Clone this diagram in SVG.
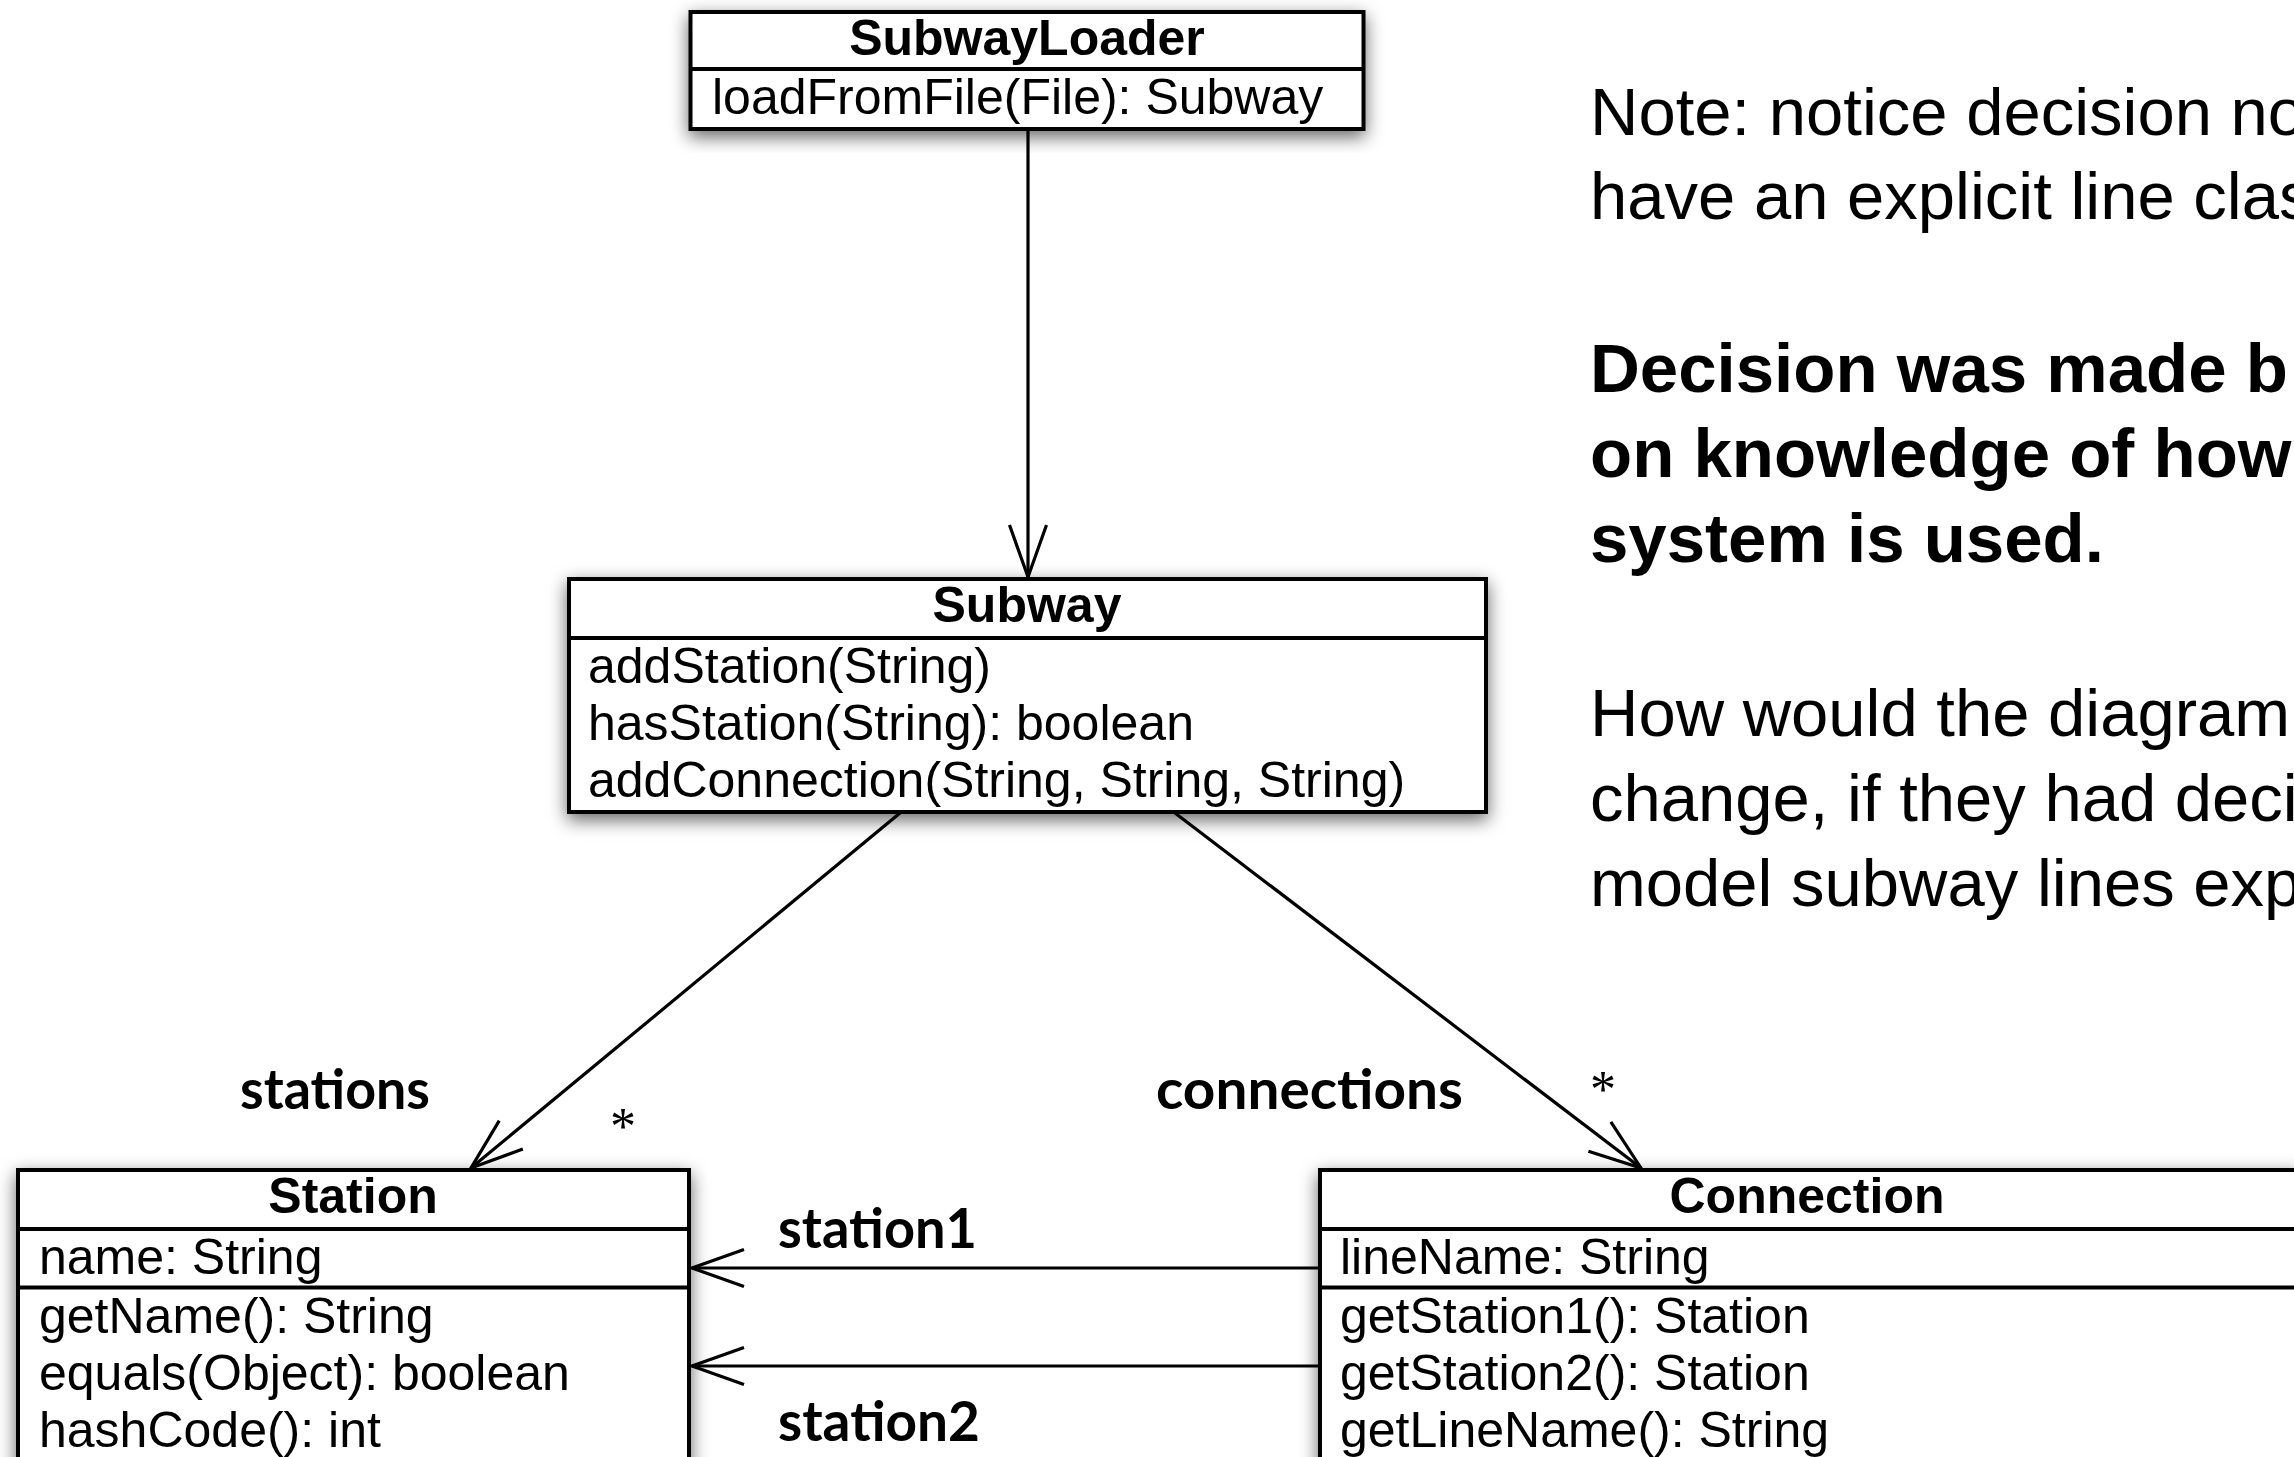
<svg xmlns="http://www.w3.org/2000/svg" width="2294" height="1457" viewBox="0 0 2294 1457">
<style>
  .box { fill: #fff; stroke: #000; stroke-width: 4; }
  .div { stroke: #000; stroke-width: 4; }
  .title { font-family: "Liberation Sans", Arial, sans-serif; font-weight: bold; font-size: 50px; text-anchor: middle; fill: #000; }
  .member { font-family: "Liberation Sans", Arial, sans-serif; font-size: 50px; fill: #000; }
  .conn { stroke: #000; stroke-width: 3.2; fill: none; }
  .role { font-family: Lato, "Open Sans", sans-serif; font-weight: bold; font-size: 56px; fill: #000; }
  .mult { font-family: "Liberation Serif", "Times New Roman", serif; font-size: 52px; text-anchor: middle; fill: #000; }
  .note { font-family: "Liberation Sans", Arial, sans-serif; font-size: 67px; fill: #000; }
  .noteb { font-family: "Liberation Sans", Arial, sans-serif; font-size: 69px; font-weight: bold; fill: #000; }
</style>
<defs>
  <filter id="shadow" x="-10%" y="-10%" width="120%" height="130%">
    <feDropShadow dx="0" dy="6" stdDeviation="9" flood-color="#000" flood-opacity="0.6"/>
  </filter>
  <marker id="open" markerUnits="userSpaceOnUse" markerWidth="60" markerHeight="44" refX="56" refY="22" orient="auto" overflow="visible">
    <path d="M4,3.5 L56,22 L4,40.5" fill="none" stroke="#000" stroke-width="3.2"/>
  </marker>
</defs>
<rect width="2294" height="1457" fill="#fff"/>

<g id="connectors">
  <line class="conn" x1="1028" y1="129" x2="1028" y2="577" marker-end="url(#open)"/>
  <line class="conn" x1="900" y1="813" x2="471" y2="1168" marker-end="url(#open)"/>
  <line class="conn" x1="1175" y1="813" x2="1641" y2="1168" marker-end="url(#open)"/>
  <line class="conn" x1="1320" y1="1268" x2="692" y2="1268" marker-end="url(#open)"/>
  <line class="conn" x1="1320" y1="1366" x2="692" y2="1366" marker-end="url(#open)"/>
  <text class="role" x="240" y="1109" textLength="190" lengthAdjust="spacingAndGlyphs">stations</text>
  <text class="mult" x="623" y="1144">*</text>
  <text class="role" x="1156" y="1109" textLength="307" lengthAdjust="spacingAndGlyphs">connections</text>
  <text class="mult" x="1603" y="1107">*</text>
  <text class="role" x="778" y="1248" textLength="199" lengthAdjust="spacingAndGlyphs">station1</text>
  <text class="role" x="778" y="1441" textLength="202" lengthAdjust="spacingAndGlyphs">station2</text>
</g>

<g id="SubwayLoader">
  <rect class="box" x="690.5" y="12" width="673" height="117" filter="url(#shadow)"/>
  <line class="div" x1="690.5" y1="69" x2="1363.5" y2="69"/>
  <text class="title" x="1027" y="55">SubwayLoader</text>
  <text class="member" x="712" y="114">loadFromFile(File): Subway</text>
</g>

<g id="Subway">
  <rect class="box" x="569" y="579" width="917" height="233" filter="url(#shadow)"/>
  <line class="div" x1="569" y1="638" x2="1486" y2="638"/>
  <text class="title" x="1027" y="622">Subway</text>
  <text class="member" x="588" y="683">addStation(String)</text>
  <text class="member" x="588" y="740">hasStation(String): boolean</text>
  <text class="member" x="588" y="797">addConnection(String, String, String)</text>
</g>

<g id="Station">
  <rect class="box" x="18" y="1170" width="671" height="320" filter="url(#shadow)"/>
  <line class="div" x1="18" y1="1229" x2="689" y2="1229"/>
  <line class="div" x1="18" y1="1287.5" x2="689" y2="1287.5"/>
  <text class="title" x="353" y="1213">Station</text>
  <text class="member" x="39" y="1274">name: String</text>
  <text class="member" x="39" y="1333">getName(): String</text>
  <text class="member" x="39" y="1390">equals(Object): boolean</text>
  <text class="member" x="39" y="1447">hashCode(): int</text>
</g>

<g id="Connection">
  <rect class="box" x="1320" y="1170" width="980" height="320" filter="url(#shadow)"/>
  <line class="div" x1="1320" y1="1229" x2="2300" y2="1229"/>
  <line class="div" x1="1320" y1="1287.5" x2="2300" y2="1287.5"/>
  <text class="title" x="1807" y="1213">Connection</text>
  <text class="member" x="1340" y="1274">lineName: String</text>
  <text class="member" x="1340" y="1333">getStation1(): Station</text>
  <text class="member" x="1340" y="1390">getStation2(): Station</text>
  <text class="member" x="1340" y="1447">getLineName(): String</text>
</g>

<g id="note">
  <text class="note" x="1590" y="135">Note: notice decision no</text>
  <text class="note" x="1590" y="219">have an explicit line clas</text>
  <text class="noteb" x="1590" y="392">Decision was made b</text>
  <text class="noteb" x="1590" y="477">on knowledge of how</text>
  <text class="noteb" x="1590" y="562">system is used.</text>
  <text class="note" x="1590" y="736">How would the diagram</text>
  <text class="note" x="1590" y="821">change, if they had deci</text>
  <text class="note" x="1590" y="906">model subway lines exp</text>
</g>
</svg>
